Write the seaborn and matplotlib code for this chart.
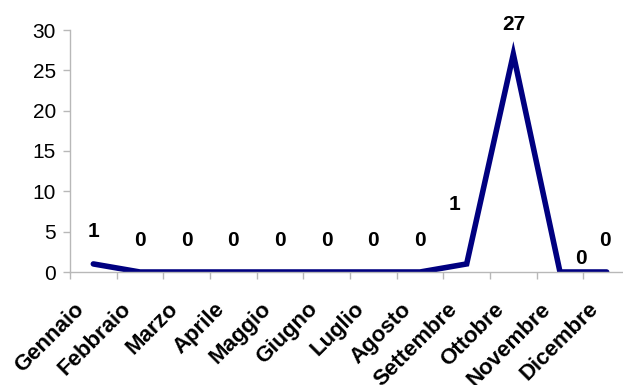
import numpy as np
import pandas as pd
import seaborn as sns
import matplotlib.pyplot as plt
from matplotlib.transforms import offset_copy

mesi = ['Gennaio', 'Febbraio', 'Marzo', 'Aprile', 'Maggio', 'Giugno',
        'Luglio', 'Agosto', 'Settembre', 'Ottobre', 'Novembre', 'Dicembre']
valori = [1, 0, 0, 0, 0, 0, 0, 0, 1, 27, 0, 0]
# spostamento etichette (pixel) come nel grafico originale
off_x = [0, 0, 0, 0, 0, 0, 0, 0, -12, 0, 21, -2]
off_y = [32, 32, 32, 32, 32, 32, 32, 32, 59, 30, 14, 32]

df = pd.DataFrame({'pos': np.arange(len(mesi)), 'valore': valori})

sns.set_style('white')
plt.rcParams['font.family'] = ['Liberation Sans', 'DejaVu Sans']
plt.rcParams['text.color'] = 'black'
plt.rcParams['xtick.color'] = 'black'
plt.rcParams['ytick.color'] = 'black'

fig = plt.figure(figsize=(6.23, 3.85), dpi=100)
ax = fig.add_axes([70 / 623, 113 / 385, 560 / 623, 242 / 385])

sns.lineplot(data=df, x='pos', y='valore', ax=ax, color='#000080',
             linewidth=4, solid_joinstyle='miter', solid_capstyle='round')

ax.set_xlim(-0.5, 11.5)
ax.set_ylim(0, 30)
ax.set_yticks(range(0, 31, 5))
ax.set_xticks(np.arange(len(mesi)))
ax.set_xticks(np.arange(-0.5, 12, 1), minor=True)
ax.set_xticklabels([])
ax.tick_params(axis='x', which='major', length=0, bottom=False)
ax.tick_params(axis='x', which='minor', bottom=True, length=5,
               color='#b8b8b8', width=1)
ax.tick_params(axis='y', left=True, length=5, color='#b8b8b8', width=1,
               pad=5, labelsize=15, labelcolor='black')
ax.set_xlabel('')
ax.set_ylabel('')

for s in ['top', 'right']:
    ax.spines[s].set_visible(False)
for s in ['left', 'bottom']:
    ax.spines[s].set_color('#b8b8b8')
    ax.spines[s].set_linewidth(1)

# etichette mesi ruotate
for i, m in enumerate(mesi):
    tr = offset_copy(ax.get_xaxis_transform(), fig=fig, x=-12, y=-34,
                     units='dots')
    ax.text(i, 0, m, transform=tr, rotation=45, ha='right', va='center',
            rotation_mode='anchor', fontsize=16, fontweight='bold')

# etichette valori
for i, v in enumerate(valori):
    tr = offset_copy(ax.transData, fig=fig, x=off_x[i], y=off_y[i],
                     units='dots')
    ax.text(i, v, str(v), transform=tr, ha='center', va='center',
            fontsize=15, fontweight='bold', clip_on=False)

plt.savefig('out.png', dpi=100)
